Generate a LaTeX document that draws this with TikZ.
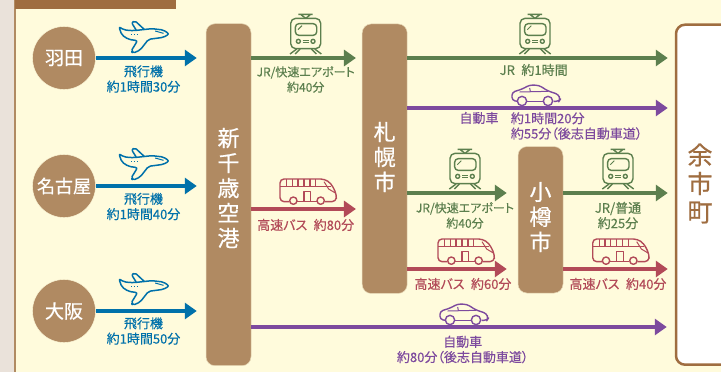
\documentclass[tikz,border=0pt]{standalone}
\usepackage{fontspec}
\setmainfont{Noto Sans CJK JP}[FakeBold=0.35,RawFeature=+palt]
\newfontfamily\stopfont{Noto Sans CJK JP}[FakeBold=0.6]
\usetikzlibrary{arrows.meta}
\definecolor{creambg}{HTML}{FFFBDC}
\definecolor{sidebg}{HTML}{EAE2DA}
\definecolor{sideline}{HTML}{B08A62}
\definecolor{topbar}{HTML}{9F6D40}
\definecolor{stopbrown}{HTML}{B08A62}
\definecolor{planeblue}{HTML}{0071AA}
\definecolor{railgreen}{HTML}{5C7F4E}
\definecolor{busred}{HTML}{B24A58}
\definecolor{carpurple}{HTML}{7D4A9E}
\tikzset{
	airport/.style={circle, fill=stopbrown, draw=creambg, minimum size=63pt, inner sep=0pt, text=white, font=\stopfont\fontsize{19}{19}\selectfont},
	stopbox/.style={rectangle, rounded corners=9pt, fill=stopbrown, draw=creambg!70!stopbrown, line width=0.5pt, minimum width=45pt, inner sep=0pt},
	stoptext/.style={align=center, text=white, inner sep=0pt, font=\stopfont\fontsize{22}{25}\selectfont},
	routetext/.style={align=center, inner sep=0pt, font=\fontsize{13}{15.3}\selectfont},
	jrtext/.style={routetext, text=railgreen, font=\fontsize{12}{15.3}\selectfont},
	route/.style={line width=3.5pt, -{Triangle[length=12pt,width=16pt]}, color=#1},
	planeicon/.pic={\begin{scope}[scale=0.3333,shift={(-430,-177)},line join=round]
		\draw[rounded corners=2pt] (356,80) -- (372,90) -- (400,92) -- (455,86) -- (490,90) -- (507,102) -- (490,112) -- (445,118) -- (420,150) -- (398,160) -- (393,153) -- (412,122) -- (385,118) -- (365,105) -- cycle;
		\draw[rounded corners=2pt] (408,90) -- (394,68) -- (404,62) -- (432,88);
		\draw[dotted, line width=0.8pt] (393,102) -- (416,102);
		\draw[line width=1pt] (465,93) -- (490,100);
	\end{scope}},
	trainicon/.pic={\begin{scope}[scale=0.3333,shift={(-197,-173)},line join=round]
		\draw[rounded corners=5pt] (152,54) rectangle (242,145);
		\draw[rounded corners=3.5pt] (166,70) rectangle (230,105);
		\draw[line width=1pt] (174,88) -- (186,76);
		\draw (175,42) -- (218,42) (184,44) -- (197,54) (210,44) -- (197,54);
		\draw (175,123) circle (6) (219,123) circle (6);
		\draw[line width=1pt] (188,120) -- (206,120) (188,126) -- (206,126);
		\draw (170,146) -- (150,161) (180,146) -- (165,161) (214,146) -- (229,161) (224,146) -- (244,161);
	\end{scope}},
	caricon/.pic={\begin{scope}[scale=0.3333,shift={(-169,-323)},line join=round]
		\draw[rounded corners=3pt] (113,303) -- (97,300) -- (97,276) -- (128,266) -- (150,254) -- (178,255) -- (205,272) -- (236,282) -- (242,297) -- (238,303) -- (222,303);
		\draw (142,303) -- (190,303);
		\draw (127,302) circle (14) (205,302) circle (14);
		\draw[line width=1pt] (120,275) -- (205,273) (150,263) -- (152,273);
	\end{scope}},
	busicon/.pic={\begin{scope}[scale=0.3333,shift={(-422,-388)},line join=round]
		\draw[rounded corners=4pt] (366,366) -- (338,366) -- (338,298) -- (472,298) -- (492,312) -- (508,345) -- (506,366) -- (472,366);
		\draw (390,366) -- (448,366);
		\draw (378,363) circle (11) (460,363) circle (11);
		\draw[line width=1.1pt] (338,320) -- (492,320);
		\foreach \barx in {358,375,392,410,428,445} {\draw[line width=1.1pt] (\barx,298) -- (\barx,320);}
		\draw (410,364) -- (410,335) -- (430,335) -- (430,364);
		\draw[line width=1pt] (470,306) -- (484,328) -- (504,340);
	\end{scope}},
}
\begin{document}
\begin{tikzpicture}[x=1pt,y=-1pt]
	%%%%% START %%%%%
	\clip (0,0) rectangle (721,372);
	\fill[creambg] (0,0) rectangle (721,372);
	\fill[sidebg] (0,0) rectangle (14,372);
	\fill[sideline] (14,0) rectangle (16,372);
	\fill[topbar] (15,0) rectangle (176,8.5);

	\node[airport] (haneda) at (64,58) {羽田};
	\node[airport, font=\stopfont\fontsize{18}{18}\selectfont] (nagoya) at (64,186) {名古屋};
	\node[airport] (osaka) at (64,311) {大阪};

	\node[stopbox, minimum height=342pt] (chitose) at (228.5,194.7) {};
	\node[stopbox, minimum height=269.5pt] (sapporo) at (384.7,158.7) {};
	\node[stopbox, minimum height=146.5pt] (otaru) at (540.5,219.8) {};
	\node[rectangle, rounded corners=9pt, fill=white, draw=topbar, line width=2.5pt, minimum width=70pt, minimum height=340pt, inner sep=0pt] (yoichi) at (711,194.7) {};

	\node[stoptext] (chitosetext) at (228.5,188) {新\\千\\歳\\空\\港};
	\node[stoptext] (sapporotext) at (384.7,157) {札\\幌\\市};
	\node[stoptext] (otarutext) at (540.5,217) {小\\樽\\市};
	\node[stoptext, text=topbar, font=\stopfont\fontsize{25}{28.5}\selectfont] (yoichitext) at (700,183.5) {余\\市\\町};

	\coordinate (rowjr) at (0,58);
	\coordinate (rowcar) at (0,108);
	\coordinate (rowrail) at (0,193);
	\coordinate (rowbus) at (0,209);
	\coordinate (rowlow) at (0,269);
	\coordinate (rowroad) at (0,327);

	\draw[route=planeblue, shorten >=9pt] (haneda) -- (haneda -| chitose.west);
	\draw[route=planeblue, shorten >=9pt] (nagoya) -- (nagoya -| chitose.west);
	\draw[route=planeblue, shorten >=9pt] (osaka) -- (osaka -| chitose.west);

	\draw[route=railgreen, shorten >=6pt] (chitose.east |- rowjr) -- (sapporo.west |- rowjr);
	\draw[route=busred, shorten >=6pt] (chitose.east |- rowbus) -- (sapporo.west |- rowbus);
	\draw[route=carpurple, shorten >=8pt] (chitose.east |- rowroad) -- (yoichi.west |- rowroad);

	\draw[route=railgreen, shorten >=7pt] (sapporo.east |- rowjr) -- (yoichi.west |- rowjr);
	\draw[route=carpurple, shorten >=7pt] (sapporo.east |- rowcar) -- (yoichi.west |- rowcar);
	\draw[route=railgreen, shorten >=11pt] (sapporo.east |- rowrail) -- (otaru.west |- rowrail);
	\draw[route=busred, shorten >=11pt] (sapporo.east |- rowlow) -- (otaru.west |- rowlow);

	\draw[route=railgreen, shorten >=7pt] (otaru.east |- rowrail) -- (yoichi.west |- rowrail);
	\draw[route=busred, shorten >=7pt] (otaru.east |- rowlow) -- (yoichi.west |- rowlow);

	\pic[color=planeblue, line width=1.5pt] (planea) at (143.5,59) {planeicon};
	\pic[color=planeblue, line width=1.5pt] (planeb) at (143.5,186) {planeicon};
	\pic[color=planeblue, line width=1.5pt] (planec) at (143.5,311) {planeicon};

	\pic[color=railgreen, line width=1.4pt] (traina) at (305.7,58) {trainicon};
	\pic[color=railgreen, line width=1.4pt] (trainb) at (535,58) {trainicon};
	\pic[color=railgreen, line width=1.4pt] (trainc) at (465,193) {trainicon};
	\pic[color=railgreen, line width=1.4pt] (traind) at (618,193) {trainicon};

	\pic[color=busred, line width=1.4pt] (busa) at (308,209) {busicon};
	\pic[color=busred, line width=1.4pt] (busb) at (466,269) {busicon};
	\pic[color=busred, line width=1.4pt] (busc) at (620.7,269) {busicon};

	\pic[color=carpurple, line width=1.4pt] (cara) at (536,108) {caricon};
	\pic[color=carpurple, line width=1.4pt] (carb) at (464,327) {caricon};

	\node[routetext, text=planeblue] (timea) at (143.5,79) {飛行機\\約1時間30分};
	\node[routetext, text=planeblue] (timeb) at (143.5,206.5) {飛行機\\約1時間40分};
	\node[routetext, text=planeblue] (timec) at (143.5,331) {飛行機\\約1時間50分};

	\node[jrtext] (timed) at (305.7,79.5) {JR/快速エアポート\\約40分};
	\node[routetext, text=railgreen] (timee) at (533.7,70) {JR\enspace 約1時間};
	\node[jrtext] (timef) at (465,215.5) {JR/快速エアポート\\約40分};
	\node[routetext, text=railgreen] (timeg) at (618,215.5) {JR/普通\\約25分};

	\node[routetext, text=busred] (timeh) at (305.7,225) {高速バス\enspace 約80分};
	\node[routetext, text=busred] (timei) at (463,284) {高速バス\enspace 約60分};
	\node[routetext, text=busred] (timej) at (618,284) {高速バス\enspace 約40分};

	\node[routetext, text=carpurple] (timek) at (479,118) {自動車};
	\node[routetext, text=carpurple, anchor=west, align=left] (timel) at (510.7,126) {約1時間20分\\約55分（後志自動車道）};
	\node[routetext, text=carpurple] (timem) at (462.7,349.5) {自動車\\約80分（後志自動車道）};
	%%%%% END %%%%%
\end{tikzpicture}
\end{document}
